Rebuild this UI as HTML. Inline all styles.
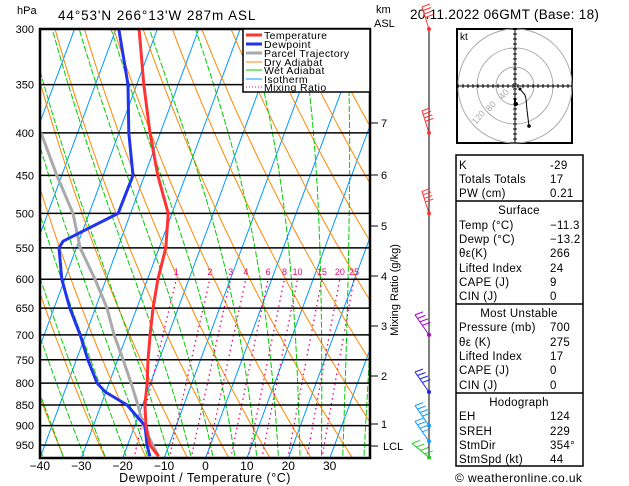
<!DOCTYPE html>
<html><head><meta charset="utf-8"><style>
body{margin:0;background:#fff;}
svg{display:block;font-family:"Liberation Sans",sans-serif;}
</style></head><body>
<svg id="c" width="629" height="486" viewBox="0 0 629 486" xmlns="http://www.w3.org/2000/svg">
<defs><clipPath id="pc"><rect x="40" y="29" width="330" height="429"/></clipPath></defs>
<g id="bg" clip-path="url(#pc)"></g>
<g id="grid"></g>
<g id="series" clip-path="url(#pc)"></g>
<rect x="40" y="29" width="330" height="429" fill="none" stroke="#000" stroke-width="2.5"/>
<g id="axes"></g>
<text x="17" y="14" font-size="11">hPa</text>
<text x="58" y="20" font-size="13.5" letter-spacing="0.9">44°53'N  266°13'W  287m  ASL</text>
<text x="376" y="13" font-size="11">km</text>
<text x="374" y="27" font-size="11">ASL</text>
<text x="410" y="19" font-size="13.5" letter-spacing="0.3">20.11.2022  06GMT  (Base: 18)</text>
<text x="205" y="482" font-size="12.5" letter-spacing="0.5" text-anchor="middle">Dewpoint / Temperature (°C)</text>
<text x="0" y="0" font-size="11" text-anchor="middle" transform="translate(398,290) rotate(-90)">Mixing Ratio (g/kg)</text>
<g>
<rect x="243" y="29" width="127" height="63" fill="#fff" stroke="#000" stroke-width="1.5"/>
<g font-size="10.5" letter-spacing="0.4">
<line x1="246" y1="35" x2="262" y2="35" stroke="#f33" stroke-width="3"/><text x="264" y="39">Temperature</text>
<line x1="246" y1="44" x2="262" y2="44" stroke="#2233ee" stroke-width="3"/><text x="264" y="48">Dewpoint</text>
<line x1="246" y1="53" x2="262" y2="53" stroke="#aaa" stroke-width="3"/><text x="264" y="57">Parcel Trajectory</text>
<line x1="246" y1="62" x2="262" y2="62" stroke="#f80" stroke-width="1"/><text x="264" y="66">Dry Adiabat</text>
<line x1="246" y1="70" x2="262" y2="70" stroke="#0c0" stroke-width="1"/><text x="264" y="74">Wet Adiabat</text>
<line x1="246" y1="79" x2="262" y2="79" stroke="#09f" stroke-width="1"/><text x="264" y="83">Isotherm</text>
<line x1="246" y1="87" x2="262" y2="87" stroke="#e07" stroke-width="1" stroke-dasharray="1 2"/><text x="264" y="91">Mixing Ratio</text>
</g></g>
<g id="wind"></g>
<g>
<rect x="457" y="29" width="115" height="114" fill="#fff" stroke="#000" stroke-width="2"/>
<g fill="none" stroke="#aaa" stroke-width="1">
<circle cx="515" cy="86" r="19"/><circle cx="515" cy="86" r="38"/><circle cx="515" cy="86" r="57"/></g>
<g id="hodoaxes" stroke="#000" stroke-width="1"><line x1="457" y1="86" x2="572" y2="86"/><line x1="515" y1="29" x2="515" y2="143"/></g>
<text x="460" y="40" font-size="10">kt</text>
<g font-size="9" fill="#aaa"><text transform="translate(503,100) rotate(-50)">40</text><text transform="translate(490,112) rotate(-50)">80</text><text transform="translate(476,125) rotate(-50)">120</text></g>
<polyline points="520,89 525,95 526,99 527,110 529,126" fill="none" stroke="#000" stroke-width="1"/>
<polyline points="515,98 515,106" fill="none" stroke="#000" stroke-width="2"/>
<circle cx="520" cy="89" r="1.5"/><circle cx="529" cy="126" r="1.8"/><circle cx="516" cy="104" r="2"/>
</g>
<g font-size="11.5" letter-spacing="0.3">
<rect x="456" y="155" width="127" height="311" fill="none" stroke="#000" stroke-width="1.5"/>
<line x1="456" y1="201" x2="583" y2="201" stroke="#000" stroke-width="1.5"/>
<line x1="456" y1="304" x2="583" y2="304" stroke="#000" stroke-width="1.5"/>
<line x1="456" y1="393" x2="583" y2="393" stroke="#000" stroke-width="1.5"/>
<g id="tbl"></g>
</g>
<text x="455" y="482" font-size="12" letter-spacing="0.4">© weatheronline.co.uk</text>
</svg>
<script>
// ---- data ----
const pressures = [300,350,400,450,500,550,600,650,700,750,800,850,900,950,980];
const temperature = [-54.4,-48.3,-42.5,-36.8,-30.9,-28.4,-27.5,-26.1,-24.4,-22.7,-20.8,-19.4,-17.3,-14.6,-11.5];
const dewPressures = [300,350,400,450,500,540,550,600,650,700,750,800,820,850,880,900,950,980];
const dewpoint = [-59.3,-52.1,-47.6,-42.8,-43,-53.8,-54.2,-50.7,-46.2,-41.3,-37.2,-32.9,-30.1,-23.7,-20,-17.5,-15.3,-13.6];
const parcelPressures = [400,450,500,550,600,650,700,750,800,850,900,950,980];
const parcelTemps = [-68.8,-61.2,-53.9,-49.1,-42.7,-37.2,-33.1,-28.7,-24.7,-21.1,-18,-13.9,-11.5];
const pressureTicks = [300,350,400,450,500,550,600,650,700,750,800,850,900,950];
const tempTicks = [-40,-30,-20,-10,0,10,20,30];
const kmTicks = [[7,123],[6,175],[5,226],[4,276],[3,326],[2,376],[1,424]];
const mixRatios = [1,2,3,4,6,8,10,15,20,25];
const windPressures = [300,400,500,700,820,900,940,983];
const windColors = ["#f33","#f33","#f33","#a0c","#22e","#19f","#19f","#2c2"];
const tableRows = [["K","-29",165],["Totals Totals","17",179],["PW (cm)","0.21",193],["Surface","",210,1],["Temp (°C)","−11.3",225],["Dewp (°C)","−13.2",239],["θε(K)","266",253],["Lifted Index","24",268],["CAPE (J)","9",282],["CIN (J)","0",296],["Most Unstable","",313,1],["Pressure (mb)","700",327],["θε (K)","275",342],["Lifted Index","17",356],["CAPE (J)","0",370],["CIN (J)","0",385],["Hodograph","",402,1],["EH","124",416],["SREH","229",431],["StmDir","354°",445],["StmSpd (kt)","44",459]];
// ---- scales ----
const NS="http://www.w3.org/2000/svg";
function yP(p){return 29+361*Math.log(p/300);}
function xT(T,p){return 40+(T+40)*4.14+0.37*(458-yP(p));}
function mk(tag,attrs,parent){const e=document.createElementNS(NS,tag);for(const k in attrs)e.setAttribute(k,attrs[k]);parent.appendChild(e);return e;}
const bg=document.getElementById('bg');
const pl=[];for(let p=1000;p>=290;p-=10)pl.push(p);
function line(fn,color,w,dash,name){
 const pts=pl.map(p=>{const T=fn(p);return T==null?null:xT(T,p).toFixed(1)+','+yP(p).toFixed(1);}).filter(Boolean).join(' ');
 const e=mk('polyline',{points:pts,fill:'none',stroke:color,'stroke-width':w},bg);if(dash)e.setAttribute('stroke-dasharray',dash);
 
 }
for(let T=-130;T<=40;T+=10)line(p=>T,'#09f',1,null,'isotherm');
for(let th=200;th<=480;th+=10)line(p=>th*Math.pow(p/1000,0.286)-273.15,'#f80',1,null,'dry-adiabat');
function es(T){return 6.112*Math.exp(17.67*T/(T+243.5));}
for(let tw=-45;tw<=40;tw+=5){
 const pts=[];let T=tw+273.15;
 for(let p=1050;p>=290;p-=2){
  if(p<=1000)pts.push(xT(T-273.15,p).toFixed(1)+','+yP(p).toFixed(1));
  const e=es(T-273.15),rs=0.622*e/(p-e);
  const dTdp=(287*T+2.5e6*rs)/(1004+2.5e6*2.5e6*rs*0.622/(287*T*T))/p;
  T-=dTdp*2;}
 const e=mk('polyline',{points:pts.join(' '),fill:'none',stroke:'#0c0','stroke-width':1,'stroke-dasharray':'6 2'},bg);
 
 }
mixRatios.forEach(w=>{
 const f=p=>{const e=w*p/(622+w);const l=Math.log(e/6.112);return 243.5*l/(17.67-l);};
 const pts=[];for(let p=1000;p>=600;p-=10)pts.push(xT(f(p),p).toFixed(1)+','+yP(p).toFixed(1));
 const e=mk('polyline',{points:pts.join(' '),fill:'none',stroke:'#e07','stroke-width':1.3,'stroke-dasharray':'1.5 3.5'},bg);
 
 
 const t=mk('text',{x:xT(f(600),600),y:yP(600)-4,'font-size':9,fill:'#e07','text-anchor':'middle'},bg);t.textContent=w;
 
 });
// pressure grid
const grid=document.getElementById('grid'),axes=document.getElementById('axes');
pressureTicks.forEach(p=>{
 const l=mk('line',{x1:40,x2:370,y1:yP(p),y2:yP(p),stroke:'#000','stroke-width':1.5},grid);
 
 
 const t=mk('text',{x:34,y:yP(p)+4,'font-size':11,'text-anchor':'end'},axes);t.textContent=p;
 
 });
tempTicks.forEach(T=>{
 const x=xT(T,985.5);
 const t=mk('text',{x:x,y:470,'font-size':12,'text-anchor':'middle'},axes);t.textContent=T<0?'−'+(-T):T;
 
 });
kmTicks.forEach(k=>{
 mk('line',{x1:370,x2:378,y1:k[1],y2:k[1],stroke:'#000','stroke-width':1},axes);
 const t=mk('text',{x:381,y:k[1]+4,'font-size':11},axes);t.textContent=k[0];
 
 });
mk('line',{x1:370,x2:378,y1:446,y2:446,stroke:'#000'},axes);
{const t=mk('text',{x:383,y:450,'font-size':11},axes);t.textContent='LCL';
 
 }
// series
const ser=document.getElementById('series');
function prof(ps,ts,color,w,name){
 const e=mk('polyline',{points:ps.map((p,i)=>xT(ts[i],p).toFixed(1)+','+yP(p).toFixed(1)).join(' '),fill:'none',stroke:color,'stroke-width':w,'stroke-linejoin':'round'},ser);
 
 }
prof(parcelPressures,parcelTemps,'#aaa',3,'parcel-trajectory');
prof(dewPressures,dewpoint,'#2233ee',3,'dewpoint-line');
prof(pressures,temperature,'#f33',3,'temperature-line');
// wind column
const wind=document.getElementById('wind');
mk('line',{x1:429,x2:429,y1:28,y2:458,stroke:'#000','stroke-width':1},wind);
windPressures.forEach((p,i)=>{
 const y=Math.min(yP(p),458),c=windColors[i];
 const g=mk('g',{stroke:c,'stroke-width':1,fill:'none'},wind);
 
 
 const x2=i<3?422:(i<7?415:412),y2=y-(i<3?22:(i===7?14:20));
 mk('line',{x1:429,y1:y,x2:x2,y2:y2},g);
 for(let k=0;k<4;k++){const fy=y2+k*3.5,fx=x2+(429-x2)*k*3.5/(y-y2);mk('line',{x1:fx,y1:fy,x2:fx+8,y2:fy-3},g);}
 mk('circle',{cx:429,cy:y,r:2,fill:c,stroke:'none'},g);});
// table
const tbl=document.getElementById('tbl');
tableRows.forEach(r=>{
 if(r[3]){const t=mk('text',{x:519,y:r[2]+4,'text-anchor':'middle'},tbl);t.textContent=r[0];
  
  }
 else{const a=mk('text',{x:459,y:r[2]+4},tbl);a.textContent=r[0];
  
  
  const b=mk('text',{x:550,y:r[2]+4},tbl);b.textContent=r[1];
  
  }});
// hodo ticks
const ha=document.getElementById('hodoaxes');
for(let d=-57;d<=57;d+=5){if(d===0)continue;mk('line',{x1:515+d,x2:515+d,y1:84,y2:88},ha);mk('line',{y1:86+d,y2:86+d,x1:513,x2:517},ha);}
</script>
</body></html>
